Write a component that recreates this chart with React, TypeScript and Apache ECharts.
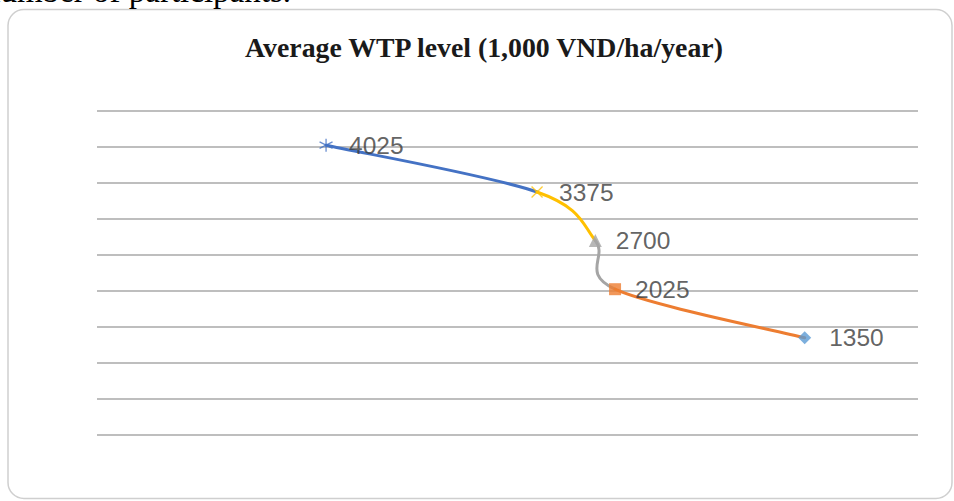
import React, { useEffect, useRef } from "react";
import * as echarts from "echarts";

// Data
const labels: string[] = ["4025", "3375", "2700", "2025", "1350"];
const values: number[] = [4025, 3375, 2700, 2025, 1350];
const xPositions: number[] = [2.79, 5.36, 6.07, 6.31, 8.62];
const segmentColors: string[] = ["#4472C4", "#FFC000", "#A5A5A5", "#ED7D31"];
const pointColors: string[] = ["#4472C4", "#FFC000", "#A5A5A5", "#ED7D31", "#5B9BD5"];
const yTicks: number[] = [0, 500, 1000, 1500, 2000, 2500, 3000, 3500, 4000, 4500];

const titleText = "Average WTP level (1,000 VND/ha/year)";

export default function App() {
  const ref = useRef<HTMLDivElement>(null);

  useEffect(() => {
    if (!ref.current) return;
    const chart = echarts.init(ref.current, null, { renderer: "svg" });

    const segments = values.slice(0, -1).map((v, i) => [xPositions[i], v, xPositions[i + 1], values[i + 1]]);

    const symbols = [
      "path://M0,-6L0,6M-5.2,-3L5.2,3M-5.2,3L5.2,-3",
      "path://M-5,-5L5,5M-5,5L5,-5",
      "triangle",
      "rect",
      "diamond",
    ];
    const sizes = [13, 11, 13, 12, 13];
    const stroked = [true, true, false, false, false];

    const scatterData = values.map((v, i) => ({
      value: [xPositions[i], v],
      symbol: symbols[i],
      symbolSize: sizes[i],
      itemStyle: stroked[i]
        ? { color: "none", borderColor: pointColors[i], borderWidth: 1.3 }
        : { color: pointColors[i] },
      label: {
        show: true,
        position: "right" as const,
        distance: i === 4 ? 18 : 14,
        formatter: labels[i],
      },
    }));

    chart.setOption({
      animation: false,
      grid: { left: 97, right: 36, top: 111, bottom: 66 },
      xAxis: {
        type: "value",
        min: 0,
        max: 10,
        show: false,
      },
      yAxis: {
        type: "value",
        min: yTicks[0],
        max: yTicks[yTicks.length - 1],
        interval: 500,
        axisLabel: { show: false },
        axisLine: { show: false },
        axisTick: { show: false },
        splitLine: { show: true, lineStyle: { color: "#a9a9a9", width: 1.5 } },
      },
      graphic: [
        {
          type: "rect",
          z: -10,
          shape: { x: 8, y: 9.5, width: 944, height: 489, r: 16 },
          style: { fill: "none", stroke: "#cfcfcf", lineWidth: 1.5 },
        },
        {
          type: "text",
          x: 484,
          y: 47,
          style: {
            text: titleText,
            fill: "#1a1a1a",
            font: "bold 27.8px 'Liberation Serif', 'Times New Roman', serif",
            textAlign: "center",
            textVerticalAlign: "middle",
          },
        },
        {
          type: "text",
          x: 291,
          y: 7,
          style: {
            text: "number of participants.",
            fill: "#000",
            font: "33px 'Liberation Serif', 'Times New Roman', serif",
            textAlign: "right",
            textVerticalAlign: "bottom",
          },
        },
      ],
      series: [
        {
          type: "custom",
          z: 2,
          data: segments,
          encode: { x: [0, 2], y: [1, 3] },
          renderItem: (params: any, api: any) => {
            const i = params.dataIndex;
            const pts = values.map((v, j) => api.coord([xPositions[j], v]));
            const n = pts.length;
            const p0 = pts[Math.max(i - 1, 0)];
            const p1 = pts[i];
            const p2 = pts[i + 1];
            const p3 = pts[Math.min(i + 2, n - 1)];
            const cp1 = [p1[0] + (p2[0] - p0[0]) / 6, p1[1] + (p2[1] - p0[1]) / 6];
            const cp2 = [p2[0] - (p3[0] - p1[0]) / 6, p2[1] - (p3[1] - p1[1]) / 6];
            return {
              type: "bezierCurve",
              shape: {
                x1: p1[0], y1: p1[1],
                x2: p2[0], y2: p2[1],
                cpx1: cp1[0], cpy1: cp1[1],
                cpx2: cp2[0], cpy2: cp2[1],
              },
              style: { stroke: segmentColors[i], lineWidth: 3, fill: "none", lineCap: "round" },
            };
          },
        },
        {
          type: "scatter",
          z: 5,
          data: scatterData,
          label: {
            color: "#3a3a3a",
            fontFamily: "'Liberation Sans', Arial, sans-serif",
            fontSize: 24.5,
          },
        },
      ],
    });

    return () => chart.dispose();
  }, []);

  return (
    <div
      ref={ref}
      style={{ position: "fixed", left: 0, top: 0, width: 954, height: 501, background: "#ffffff" }}
    />
  );
}
